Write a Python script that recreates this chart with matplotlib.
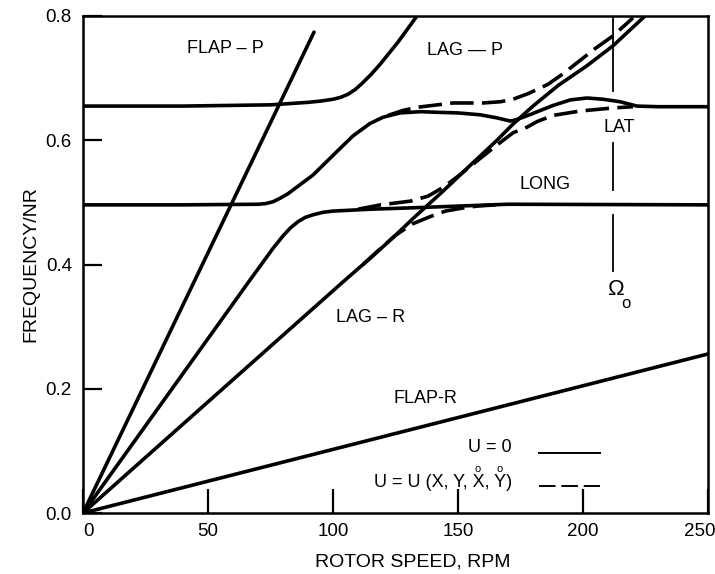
import matplotlib
matplotlib.use("Agg")
import matplotlib.pyplot as plt
from matplotlib.transforms import ScaledTranslation

plt.rcParams['font.family'] = ['Liberation Sans', 'DejaVu Sans']

# FLAP-P (progressive flap), straight line through origin
flap_p_x = [0, 92.4]
flap_p_y = [0, 0.774]

# FLAP-R (regressive flap)
flap_r_x = [0, 250]
flap_r_y = [0, 0.256]

# upper body mode at 0.655 turning into LAG-P
lag_p_x = [0, 40, 75, 90, 95, 100, 103, 106, 109, 112, 115, 118.8, 126, 133.6]
lag_p_y = [0.655, 0.655, 0.657, 0.661, 0.663, 0.666, 0.669, 0.674, 0.682, 0.693,
           0.705, 0.722, 0.758, 0.80]

# lower body mode at 0.496 rising to LAT level
lat_x = [0, 40, 70, 73, 76, 79, 82, 86, 92, 101.6, 108, 114.8, 120, 126.8, 135,
         141.6, 150, 158.8, 165.6, 170.8, 174]
lat_y = [0.496, 0.496, 0.497, 0.498, 0.501, 0.507, 0.514, 0.526, 0.544, 0.582, 0.607,
         0.627, 0.637, 0.644, 0.646, 0.645, 0.644, 0.641, 0.636, 0.631, 0.633]

# LAG-R line through origin
lag_r_x = [0, 104, 116, 125, 132, 138, 144, 155, 165.6, 172, 180, 190, 201.6, 212, 224.8]
lag_r_y = [0, 0.372, 0.414, 0.447, 0.474, 0.496, 0.518, 0.560, 0.600, 0.626, 0.655,
           0.688, 0.720, 0.752, 0.80]

# second line from origin bending into LONG
long_x = [0, 66.8, 76, 80, 83, 86, 89, 92, 96, 100, 115, 130, 150, 170, 250]
long_y = [0, 0.375, 0.426, 0.446, 0.459, 0.469, 0.476, 0.480, 0.484, 0.486, 0.489,
          0.491, 0.494, 0.497, 0.496]

# LAT hump after crossing
hump_x = [172, 178, 188, 195, 201.6, 208, 214.8, 221.6, 230, 250]
hump_y = [0.631, 0.640, 0.656, 0.665, 0.668, 0.666, 0.662, 0.655, 0.654, 0.654]

# dashed (coupled) branches
dash_e_x = [122, 128, 133.6, 148, 160, 167, 172, 178, 186, 192, 199, 205, 212, 220]
dash_e_y = [0.640, 0.648, 0.653, 0.660, 0.660, 0.662, 0.666, 0.675, 0.690, 0.707,
            0.729, 0.748, 0.768, 0.797]

dash_f_x = [112, 118.8, 125, 131.6, 138.8, 145, 152, 157.6, 165]
dash_f_y = [0.400, 0.425, 0.447, 0.465, 0.477, 0.486, 0.491, 0.494, 0.496]

dash_g_x = [110, 119, 131, 138, 144, 150, 158, 166.8, 172, 177.6, 181.6, 188, 198.8, 212, 220]
dash_g_y = [0.489, 0.496, 0.502, 0.510, 0.524, 0.542, 0.568, 0.596, 0.612, 0.621,
            0.630, 0.640, 0.647, 0.652, 0.654]

omega_rpm = 212
omega_segments = [(0.68, 0.80), (0.52, 0.595), (0.39, 0.48)]

x_ticks = [0, 50, 100, 150, 200, 250]
y_ticks = [0.0, 0.2, 0.4, 0.6, 0.8]

W, H = 715, 574
fig = plt.figure(figsize=(W / 100, H / 100), dpi=100)
ax = fig.add_axes([83 / W, 1 - 513 / H, (708 - 83) / W, (513 - 16) / H])

lw = 2.6
dash = (6.5, 2.3)
for xs, ys in [(flap_p_x, flap_p_y), (flap_r_x, flap_r_y), (lag_p_x, lag_p_y),
               (lat_x, lat_y), (lag_r_x, lag_r_y), (long_x, long_y), (hump_x, hump_y)]:
    ax.plot(xs, ys, color='black', lw=lw, solid_capstyle='round', solid_joinstyle='round')
for xs, ys in [(dash_e_x, dash_e_y), (dash_f_x, dash_f_y), (dash_g_x, dash_g_y)]:
    ax.plot(xs, ys, color='black', lw=lw, dashes=dash)

for y0, y1 in omega_segments:
    ax.plot([omega_rpm, omega_rpm], [y0, y1], color='black', lw=1.3)
ax.text(omega_rpm + 1.5, 0.36, "Ω", fontsize=16, ha='center', va='center')
ax.text(omega_rpm + 5.2, 0.337, "o", fontsize=12, ha='center', va='center')

fs = 13
ax.text(56.8, 0.748, "FLAP – P", fontsize=fs, ha='center', va='center')
ax.text(152.8, 0.745, "LAG — P", fontsize=fs, ha='center', va='center')
ax.text(214.4, 0.62, "LAT", fontsize=fs, ha='center', va='center')
ax.text(184.8, 0.528, "LONG", fontsize=fs, ha='center', va='center')
ax.text(115.2, 0.314, "LAG – R", fontsize=fs, ha='center', va='center')
ax.text(136.8, 0.185, "FLAP-R", fontsize=fs, ha='center', va='center')

# legend
ax.text(171.6, 0.105, "U = 0", fontsize=fs, ha='right', va='center')
ax.text(171.6, 0.049, "U = U (X, Y, X, Y)", fontsize=fs, ha='right', va='center')
ax.text(158.0, 0.071, "o", fontsize=8, ha='center', va='center')
ax.text(166.8, 0.071, "o", fontsize=8, ha='center', va='center')
ax.plot([182.4, 206.8], [0.097, 0.097], color='black', lw=1.4)
ax.plot([182.4, 206.8], [0.043, 0.043], color='black', lw=1.4, dashes=(8.5, 3))

ax.set_xlim(0, 250)
ax.set_ylim(0, 0.8)
ax.set_xticks(x_ticks)
ax.set_yticks(y_ticks)
ax.set_xticklabels([str(v) for v in x_ticks], fontsize=13.5)
ax.set_yticklabels([f"{v:.1f}" for v in y_ticks], fontsize=13.5)
ax.tick_params(axis='x', direction='in', length=17, width=1.6, pad=7)
ax.tick_params(axis='y', direction='in', length=14, width=1.6, pad=8)
xl = ax.get_xticklabels()
xl[0].set_transform(xl[0].get_transform() + ScaledTranslation(6 / 100, 0, fig.dpi_scale_trans))
xl[-1].set_transform(xl[-1].get_transform() + ScaledTranslation(-8 / 100, 0, fig.dpi_scale_trans))
for s in ax.spines.values():
    s.set_linewidth(1.8)

fig.text(413 / W, 1 - 562 / H, "ROTOR SPEED, RPM", fontsize=14, ha='center', va='center')
fig.text(31 / W, 1 - 264 / H, "FREQUENCY/NR", fontsize=14, ha='center', va='center',
         rotation=90)

fig.savefig("out.png", dpi=100, facecolor='white')
